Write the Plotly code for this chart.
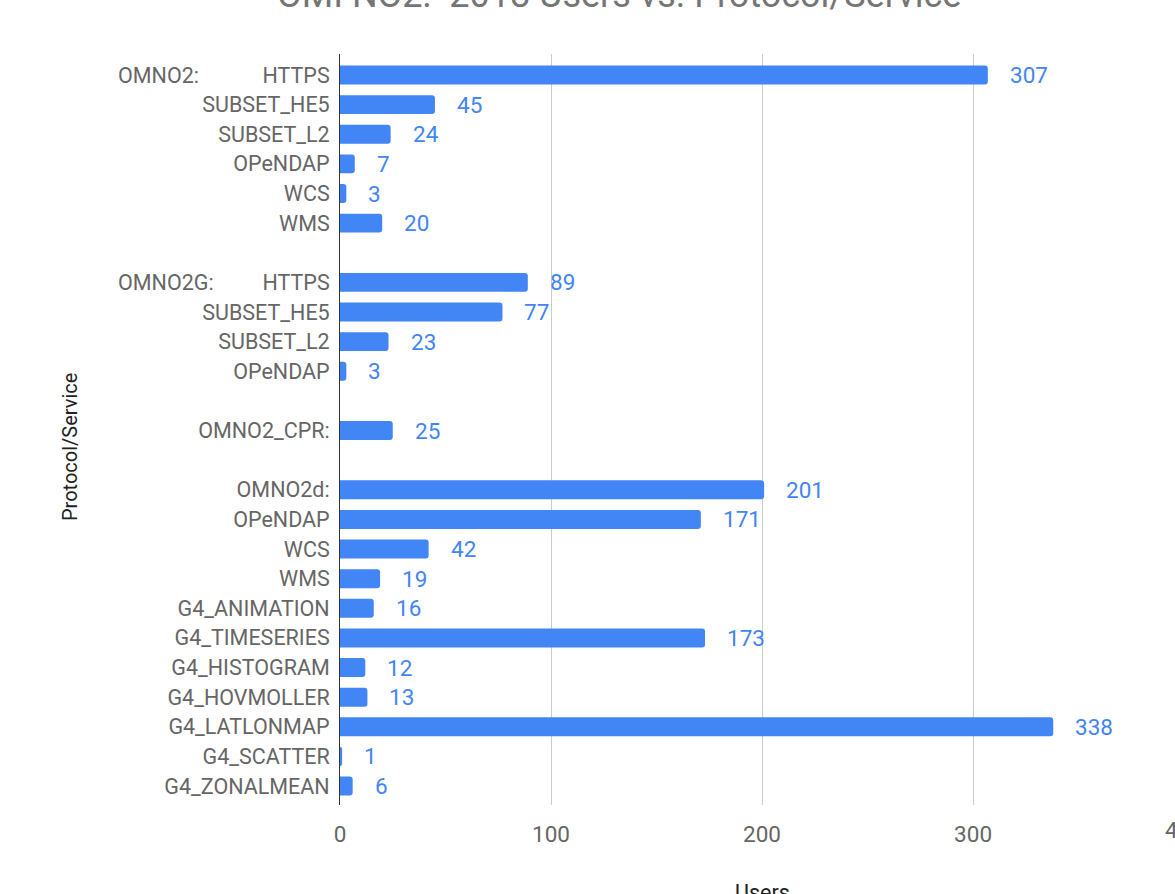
import plotly.graph_objects as go

# ---- data ----
categories = [
    "HTTPS", "SUBSET_HE5", "SUBSET_L2", "OPeNDAP", "WCS", "WMS",
    "",
    "HTTPS", "SUBSET_HE5", "SUBSET_L2", "OPeNDAP",
    "",
    "OMNO2_CPR:",
    "",
    "OMNO2d:", "OPeNDAP", "WCS", "WMS", "G4_ANIMATION", "G4_TIMESERIES",
    "G4_HISTOGRAM", "G4_HOVMOLLER", "G4_LATLONMAP", "G4_SCATTER", "G4_ZONALMEAN",
]
users = [
    307, 45, 24, 7, 3, 20,
    None,
    89, 77, 23, 3,
    None,
    25,
    None,
    201, 171, 42, 19, 16, 173, 12, 13, 338, 1, 6,
]
group_prefixes = {0: "OMNO2:", 7: "OMNO2G:"}
x_ticks = [0, 100, 200, 300, 400]

title = "OMI NO2:  2018 Users vs. Protocol/Service"
x_title = "Users"
y_title = "Protocol/Service"

# ---- styling / layout ----
BLUE = "#4285f4"
LABEL = "#666666"
FONT = "Roboto"
LBL_SIZE = 21.5
NUM_SIZE = 22.5
W, H = 1175, 894
ML, MR, MT, MB = 340, 0, 54, 89
PH = H - MT - MB
PW = W - ML - MR
XMAX = 395.7
YRANGE = [24.64, -0.709]

rows = list(range(len(categories)))
bx = [v for v in users if v is not None]
by = [r for r, v in zip(rows, users) if v is not None]

fig = go.Figure()
fig.add_trace(go.Bar(
    x=bx, y=by, orientation="h", width=0.64,
    marker=dict(color=BLUE, cornerradius=3, line=dict(width=0)),
    hoverinfo="x+y",
))

annotations = []
for r, v in zip(by, bx):
    annotations.append(dict(
        x=v, y=r, xref="x", yref="y", text=str(v), showarrow=False,
        xanchor="left", yanchor="middle", xshift=20,
        font=dict(family=FONT, size=NUM_SIZE, color=BLUE),
    ))
for r, p in group_prefixes.items():
    annotations.append(dict(
        x=(116 - ML) / PW, y=r, xref="paper", yref="y", text=p,
        showarrow=False, xanchor="left", yanchor="middle",
        font=dict(family=FONT, size=LBL_SIZE, color=LABEL),
    ))
# last tick label (only partly visible, beyond the visible range)
annotations.append(dict(
    x=x_ticks[-1] / XMAX, y=-(830 - 805) / PH, xref="paper", yref="paper",
    text=str(x_ticks[-1]), showarrow=False, xanchor="center", yanchor="middle",
    font=dict(family=FONT, size=NUM_SIZE, color=LABEL),
))
annotations.append(dict(
    x=(619 - ML) / PW, y=1 + (MT - 18) / PH,
    xref="paper", yref="paper", text=title, showarrow=False,
    xanchor="center", yanchor="bottom",
    font=dict(family=FONT, size=36, color="#757575"),
))
annotations.append(dict(
    x=(762 - ML) / PW, y=-(878 - 805) / PH,
    xref="paper", yref="paper", text=x_title, showarrow=False,
    xanchor="center", yanchor="top",
    font=dict(family=FONT, size=LBL_SIZE, color="#222222"),
))
annotations.append(dict(
    x=(70 - ML) / PW, y=1 - (447 - MT) / PH,
    xref="paper", yref="paper", text=y_title, showarrow=False, textangle=-90,
    xanchor="center", yanchor="middle",
    font=dict(family=FONT, size=20, color="#222222"),
))

fig.update_layout(
    width=W, height=H,
    margin=dict(l=ML, r=MR, t=MT, b=MB, pad=0),
    plot_bgcolor="white", paper_bgcolor="white",
    showlegend=False,
    annotations=annotations,
    xaxis=dict(
        range=[0, XMAX], tickvals=x_ticks, ticktext=[str(t) for t in x_ticks],
        showgrid=True, gridcolor="#cccccc", gridwidth=1,
        zeroline=False, showline=False,
        ticks="", ticklabelstandoff=13,
        tickfont=dict(family=FONT, size=NUM_SIZE, color=LABEL),
    ),
    yaxis=dict(
        range=YRANGE, tickvals=rows, ticktext=categories,
        showgrid=False, zeroline=False,
        showline=True, linecolor="#333333", linewidth=1,
        ticks="", ticklabelstandoff=5,
        tickfont=dict(family=FONT, size=LBL_SIZE, color=LABEL),
    ),
    font=dict(family=FONT),
)

fig.write_html("out.html")
